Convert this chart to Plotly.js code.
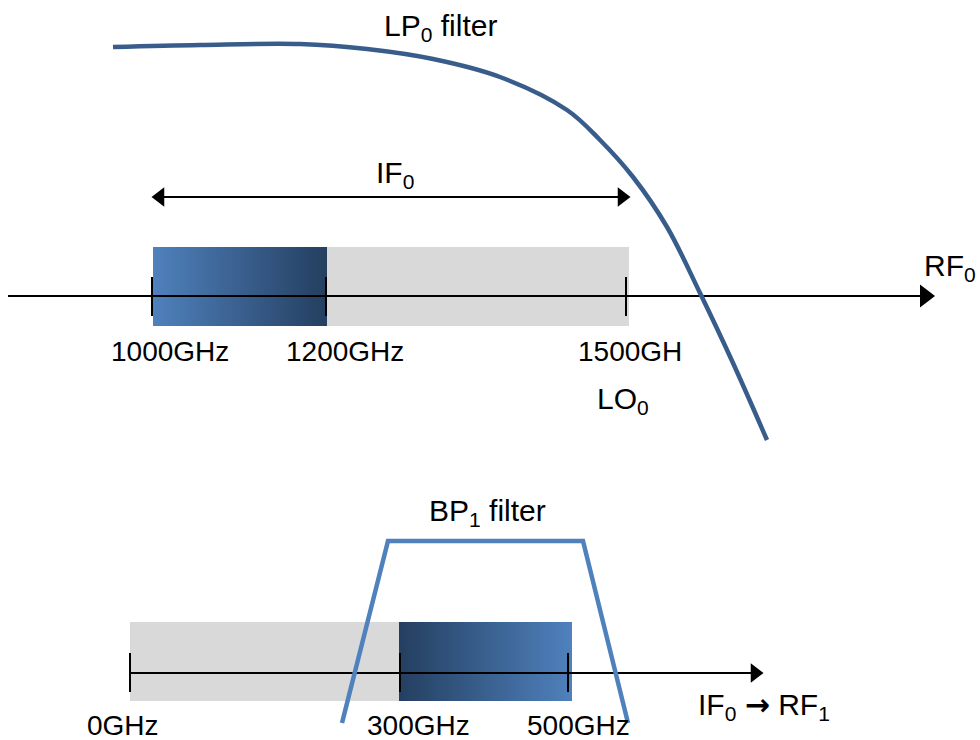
<!DOCTYPE html>
<html>
<head>
<meta charset="utf-8">
<script src="https://cdn.plot.ly/plotly-3.0.1.min.js"></script>
<style>html,body{margin:0;padding:0;background:#fff;}#chart{width:980px;height:740px;}</style>
</head>
<body>
<div id="chart"></div>
<script>
// ---- Diagram values (schematic pixel positions) ----
// Top panel: RF0 axis
const rf0AxisX = [8, 935];
const rf0AxisY = 296;
const rf0TickX = [152, 326, 626];
const rf0TickSpan = [277, 316];
const rf0TickLabels = ['1000GHz', '1200GHz', '1500GH'];
const rf0LabelX = [170, 345, 630];
const rf0LabelY = 351;
const rf0SignalBand = [153, 327];
const rf0ImageBand = [327, 629];
const rf0BandY = [247, 326];
const if0ArrowX = [152, 630];
const if0ArrowY = 197;

// LP0 filter response curve
const lpFilterX = [113, 200, 300, 367, 433, 500, 567, 600, 633, 667, 700, 733, 767];
const lpFilterY = [47, 45, 44, 49, 59, 77, 110, 140, 177, 227, 293, 363, 440];

// Bottom panel: IF0 -> RF1 axis
const rf1AxisX = [130, 763];
const rf1AxisY = 673;
const rf1TickX = [130, 400, 568];
const rf1TickSpan = [653, 692];
const rf1TickLabels = ['0GHz', '300GHz', '500GHz'];
const rf1LabelX = [123, 418, 578];
const rf1LabelY = 725;
const rf1ImageBand = [130, 399];
const rf1SignalBand = [399, 572];
const rf1BandY = [622, 701];

// BP1 filter response
const bpFilterX = [342, 388, 583, 628];
const bpFilterY = [723, 541, 541, 723];

// Text labels
const labelText = ['LP<sub>0</sub> filter', 'IF<sub>0</sub>', 'RF<sub>0</sub>', 'LO<sub>0</sub>', 'BP<sub>1</sub> filter',
  'IF<sub>0</sub> <b><span style="font-family:DejaVu Sans">\u2192</span></b> RF<sub>1</sub>'];
const labelX = [440, 395, 950, 623, 487, 764];
const labelY = [27, 174, 267, 400, 512, 706];

// ---- Build traces ----
const FONT = 'Liberation Sans, Arial, sans-serif';
const grey = '#d9d9d9';
const light = '#4f81bd';
const dark = '#243f60';

function rect(xr, yr, opts) {
  return Object.assign({
    type: 'scatter', mode: 'lines',
    x: [xr[0], xr[1], xr[1], xr[0], xr[0]],
    y: [yr[0], yr[0], yr[1], yr[1], yr[0]],
    fill: 'toself', line: {width: 0}, hoverinfo: 'skip', showlegend: false
  }, opts);
}
function ticks(xs, span) {
  const x = [], y = [];
  xs.forEach(v => { x.push(v, v, null); y.push(span[0], span[1], null); });
  return {type: 'scatter', mode: 'lines', x, y, line: {color: '#000', width: 2}, hoverinfo: 'skip', showlegend: false};
}
function hline(xr, yv) {
  return {type: 'scatter', mode: 'lines', x: xr, y: [yv, yv], line: {color: '#000', width: 2}, hoverinfo: 'skip', showlegend: false};
}
function heads(xs, yv, symbols, size) {
  return {type: 'scatter', mode: 'markers', x: xs, y: xs.map(() => yv),
    marker: {symbol: symbols, size: size, color: '#000', line: {width: 0}}, hoverinfo: 'skip', showlegend: false};
}

const traces = [
  rect(rf0ImageBand, rf0BandY, {fillcolor: grey}),
  rect(rf0SignalBand, rf0BandY, {fillcolor: light, fillgradient: {type: 'horizontal', colorscale: [[0, light], [1, dark]]}}),
  rect(rf1ImageBand, rf1BandY, {fillcolor: grey}),
  rect(rf1SignalBand, rf1BandY, {fillcolor: light, fillgradient: {type: 'horizontal', colorscale: [[0, dark], [1, light]]}}),
  hline([rf0AxisX[0], rf0AxisX[1] - 10], rf0AxisY),
  ticks(rf0TickX, rf0TickSpan),
  heads([rf0AxisX[1] - 10], rf0AxisY, ['triangle-right'], 20),
  hline([if0ArrowX[0] + 8, if0ArrowX[1] - 8], if0ArrowY),
  heads([if0ArrowX[0] + 8, if0ArrowX[1] - 8], if0ArrowY, ['triangle-left', 'triangle-right'], 17),
  hline([rf1AxisX[0], rf1AxisX[1] - 8], rf1AxisY),
  ticks(rf1TickX, rf1TickSpan),
  heads([rf1AxisX[1] - 8], rf1AxisY, ['triangle-right'], 17),
  {type: 'scatter', mode: 'lines', x: lpFilterX, y: lpFilterY,
   line: {color: '#395d8b', width: 4.5, shape: 'spline', smoothing: 1}, hoverinfo: 'skip', showlegend: false},
  {type: 'scatter', mode: 'lines', x: bpFilterX, y: bpFilterY,
   line: {color: '#4f81bd', width: 4.5}, hoverinfo: 'skip', showlegend: false}
];

const annotations = [];
rf0TickLabels.forEach((t, i) => annotations.push({x: rf0LabelX[i], y: rf0LabelY, text: t}));
rf1TickLabels.forEach((t, i) => annotations.push({x: rf1LabelX[i], y: rf1LabelY, text: t}));
labelText.forEach((t, i) => annotations.push({x: labelX[i], y: labelY[i], text: t, font: {family: FONT, size: 30, color: '#000'}}));
annotations.forEach(a => {
  a.xref = 'x'; a.yref = 'y'; a.showarrow = false; a.xanchor = 'center'; a.yanchor = 'middle';
  if (!a.font) a.font = {family: FONT, size: 28, color: '#000'};
});

const layout = {
  width: 980, height: 740,
  margin: {l: 0, r: 0, t: 0, b: 0},
  paper_bgcolor: '#fff', plot_bgcolor: '#fff',
  showlegend: false,
  xaxis: {range: [0, 980], visible: false, fixedrange: true},
  yaxis: {range: [740, 0], visible: false, fixedrange: true},
  annotations: annotations
};

Plotly.newPlot('chart', traces, layout, {displayModeBar: false, staticPlot: true});
</script>
</body>
</html>
